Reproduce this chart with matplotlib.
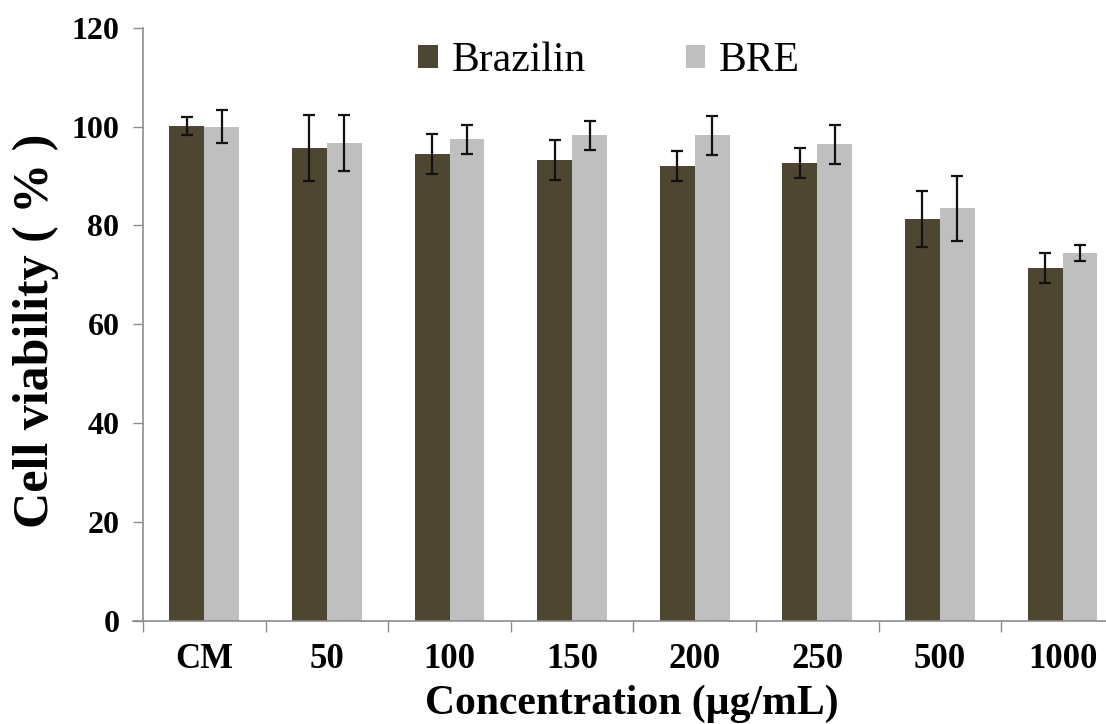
import matplotlib
matplotlib.use('Agg')
import matplotlib.pyplot as plt
import numpy as np

categories = ['CM', '50', '100', '150', '200', '250', '500', '1000']
brazilin = [100.1, 95.7, 94.5, 93.2, 92.0, 92.6, 81.3, 71.4]
brazilin_err = [1.8, 6.7, 4.0, 4.0, 3.0, 3.0, 5.6, 3.1]
bre = [100.0, 96.7, 97.4, 98.2, 98.2, 96.4, 83.5, 74.5]
bre_err = [3.3, 5.7, 3.0, 3.0, 4.0, 4.0, 6.6, 1.6]

plt.rcParams['font.family'] = ['Liberation Serif', 'DejaVu Serif']

W, H = 1106, 724
fig = plt.figure(figsize=(W / 100, H / 100), dpi=100)
# axes box in pixels (right side runs off the figure, like the cropped original)
left, bottom, top = 143, 621, 27.7
width = 8 * 122.6
ax = fig.add_axes([left / W, 1 - bottom / H, width / W, (bottom - top) / H])

x = np.arange(len(categories))
bw = 0.285
err_kw = dict(ecolor='#111111', elinewidth=1.6, capsize=4, capthick=1.6)
ax.bar(x, brazilin, width=-bw, align='edge', color='#4D4630', label='Brazilin',
       yerr=brazilin_err, error_kw=err_kw, zorder=2)
ax.bar(x, bre, width=bw, align='edge', color='#BFBFBF', label='BRE',
       yerr=bre_err, error_kw=err_kw, zorder=2)

ax.set_xlim(-0.5, len(categories) - 0.5)
ax.set_ylim(0, 120)
ax.set_yticks(np.arange(0, 121, 20))

# ticks between groups, labels under group centres
ax.set_xticks(np.arange(-0.5, len(categories), 1.0))
ax.set_xticklabels([])
ax.set_xticks(x, minor=True)
ax.set_xticklabels(categories, minor=True)
ax.tick_params(axis='x', which='major', direction='out', length=8, width=1, color='#8C8C8C')
ax.tick_params(axis='x', which='minor', length=0, pad=16, labelsize=25)
ax.tick_params(axis='y', direction='out', length=7, width=1, color='#8C8C8C', pad=10, labelsize=23)
for lab in ax.get_xticklabels(minor=True) + ax.get_yticklabels():
    lab.set_fontweight('bold')

for s in ['top', 'right']:
    ax.spines[s].set_visible(False)
for s in ['left', 'bottom']:
    ax.spines[s].set_color('#8C8C8C')
    ax.spines[s].set_linewidth(1.2)
# x axis line pokes a little left past the y axis
ax.plot([-10 / width, 0], [0, 0], transform=ax.transAxes, color='#8C8C8C', lw=1.2, clip_on=False)

fig.text(36 / W, 1 - 331 / H, 'Cell viability ( % )', rotation=90, ha='center', va='center',
         fontsize=36, fontweight='bold')
fig.text(632 / W, 1 - 704 / H, 'Concentration (\u00b5g/mL)', ha='center', va='center',
         fontsize=30, fontweight='bold')

fig.legend(loc='center left', bbox_to_anchor=(418 / W, 1 - 61 / H), ncol=2, frameon=False,
           fontsize=30, handlelength=0.47, handleheight=0.47, handletextpad=0.33,
           columnspacing=2.4, borderpad=0, borderaxespad=0)

fig.savefig('out.png', dpi=100)
